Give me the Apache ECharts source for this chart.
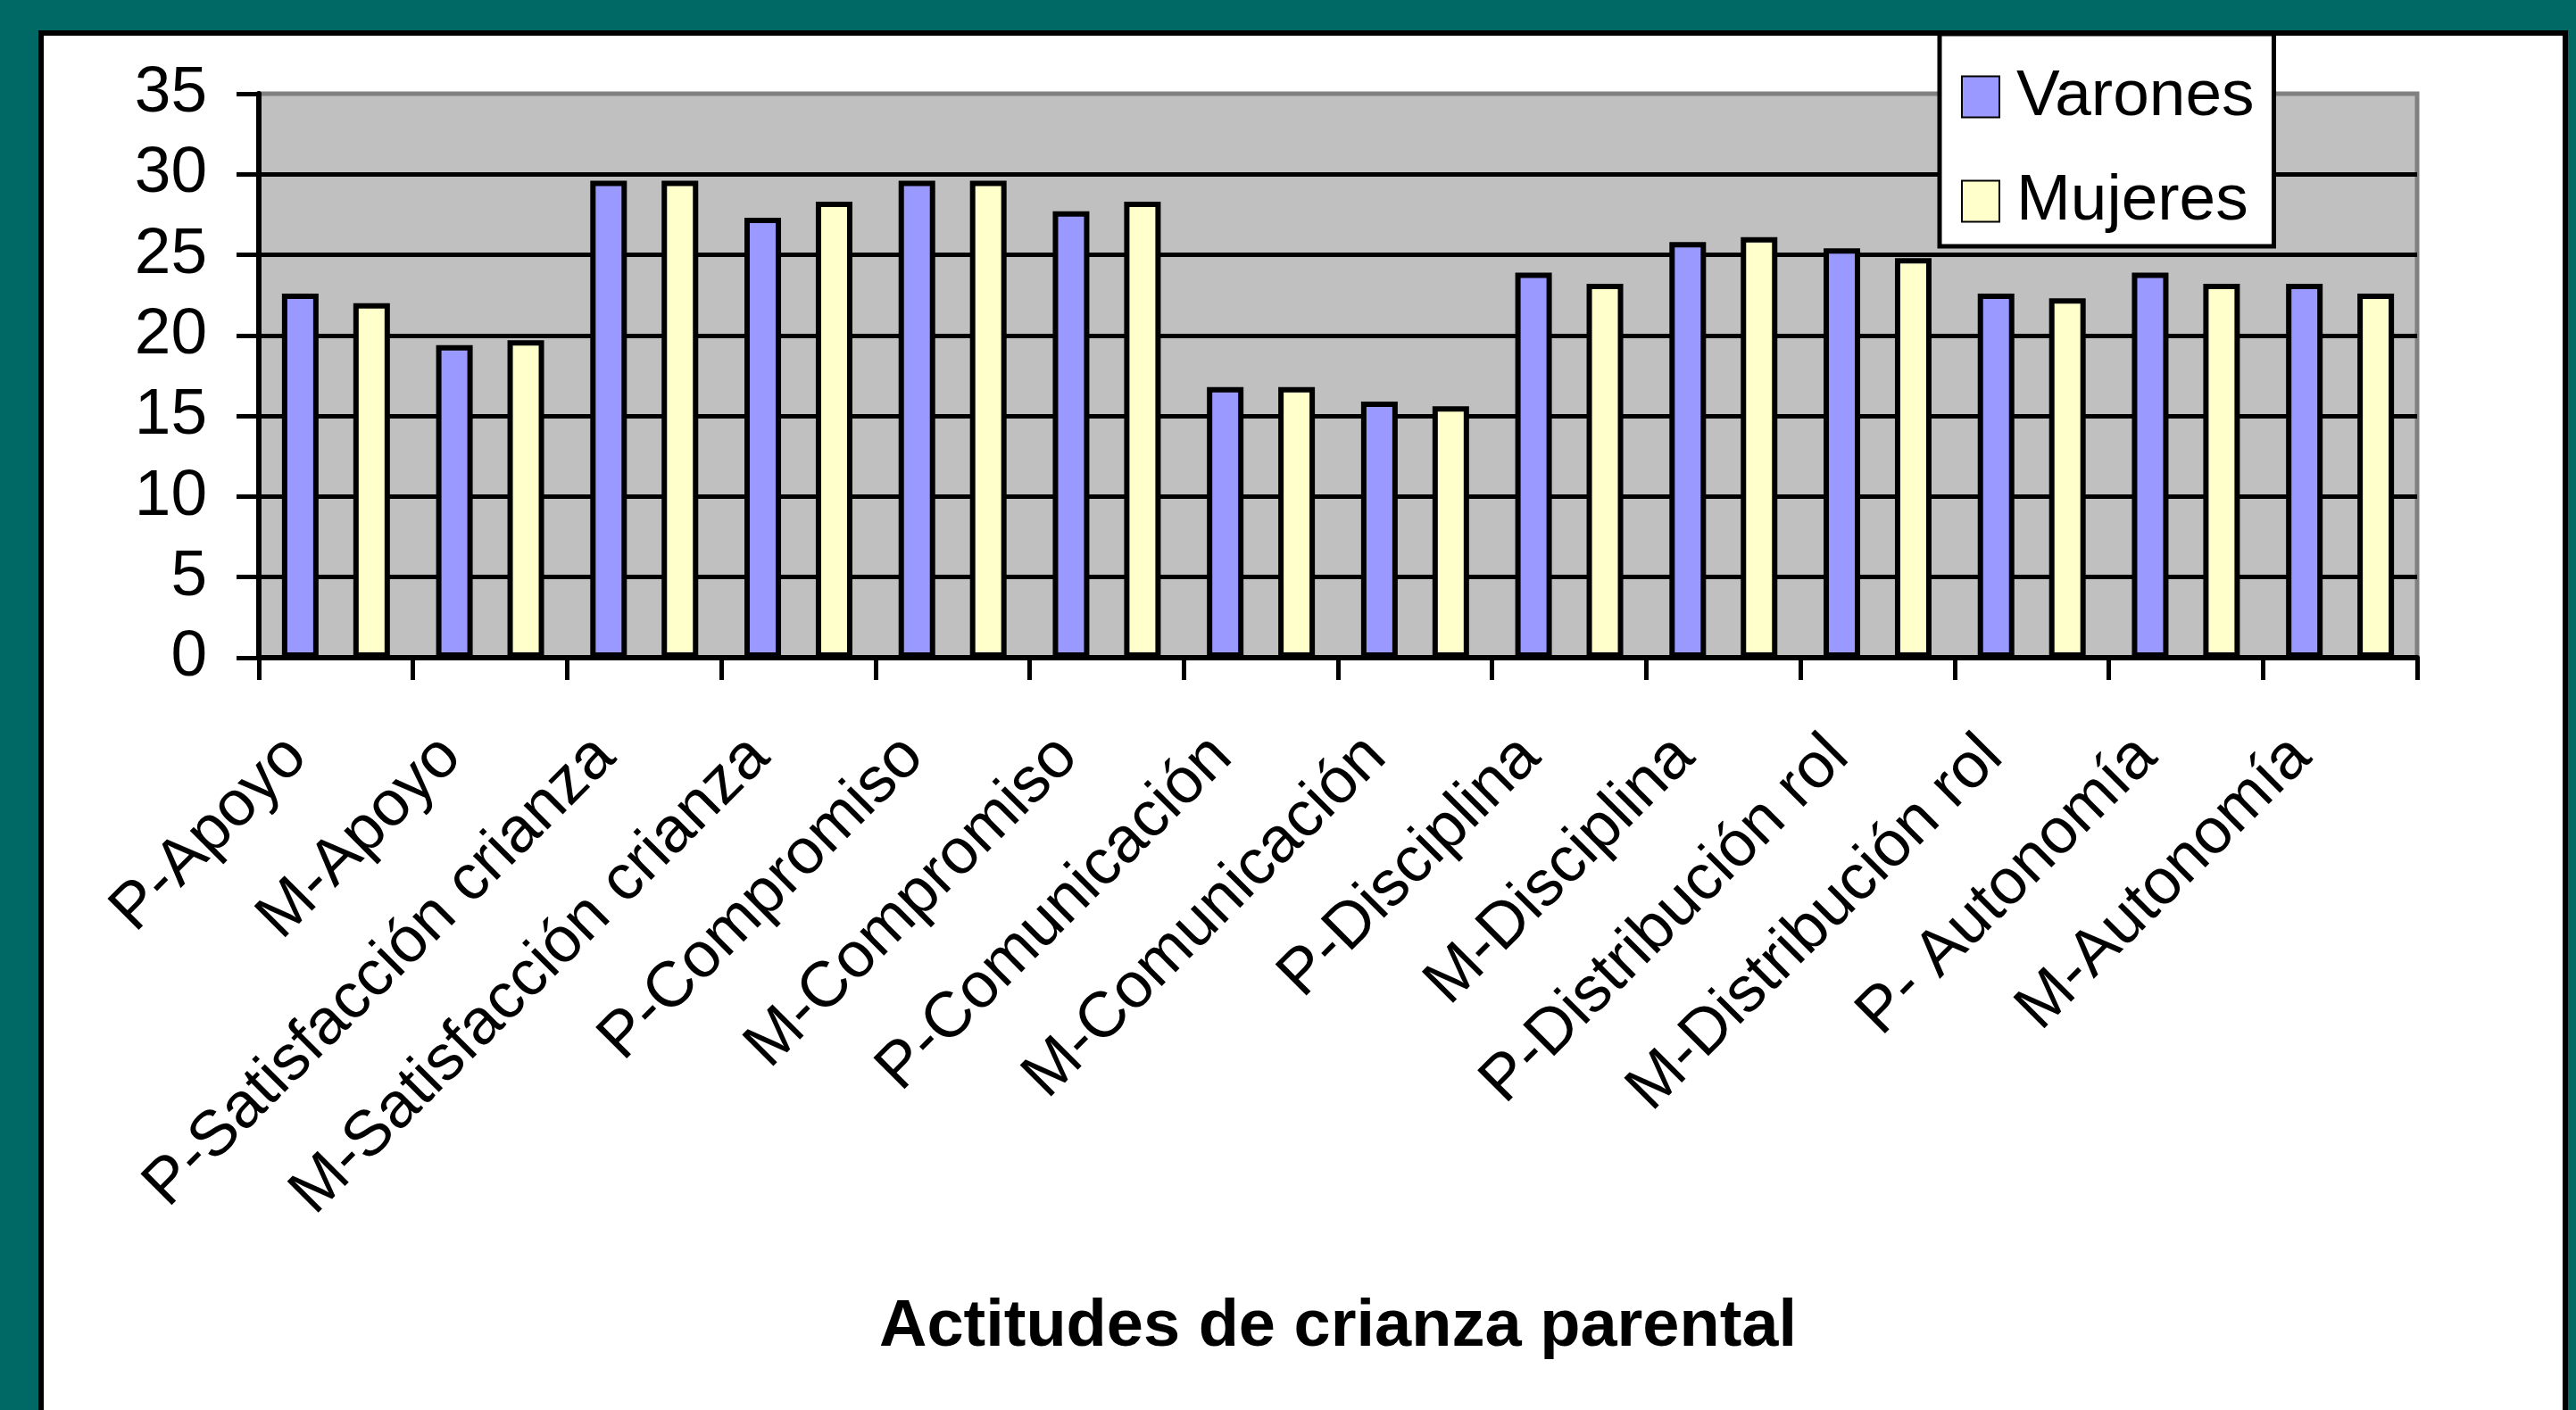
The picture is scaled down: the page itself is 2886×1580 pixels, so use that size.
<!doctype html>
<html>
<head>
    <meta charset="UTF-8">
    <title>Actitudes de crianza parental</title>
    <script src="https://cdn.jsdelivr.net/npm/echarts@6/dist/echarts.min.js"></script>
    <style>
        html, body { margin: 0; padding: 0; background: #006966; }
        #main { width: 2886px; height: 1580px; }
    </style>
</head>
<body>
<div id="main"></div>
<script type="text/javascript">
    // categorias del eje X
    var categorias = ['P-Apoyo', 'M-Apoyo', 'P-Satisfacción crianza', 'M-Satisfacción crianza',
        'P-Compromiso', 'M-Compromiso', 'P-Comunicación', 'M-Comunicación',
        'P-Disciplina', 'M-Disciplina', 'P-Distribución rol', 'M-Distribución rol',
        'P- Autonomía', 'M-Autonomía'];
    var varones = [22.6, 19.4, 29.6, 27.3, 29.6, 27.7, 16.8, 15.9, 23.9, 25.8, 25.4, 22.6, 23.9, 23.2];
    var mujeres = [22.0, 19.7, 29.6, 28.3, 29.6, 28.3, 16.8, 15.6, 23.2, 26.1, 24.8, 22.3, 23.2, 22.6];
    var series_nombres = ['Varones', 'Mujeres'];

    var fuente = 'Liberation Sans, Arial, sans-serif';
    var myChart = echarts.init(document.getElementById('main'));

    option = {
        backgroundColor: '#006966',
        animation: false,
        textStyle: { fontFamily: fuente },
        graphic: [{
            type: 'rect',
            z: -10,
            shape: { x: 46, y: 37, width: 2828, height: 1600 },
            style: { fill: '#ffffff', stroke: '#000000', lineWidth: 6 }
        }],
        legend: {
            data: series_nombres,
            orient: 'vertical',
            left: 2173,
            top: 38,
            padding: [34, 22, 14, 24],
            itemGap: 44,
            itemWidth: 42,
            itemHeight: 46,
            backgroundColor: '#ffffff',
            borderColor: '#000000',
            borderWidth: 5,
            icon: 'rect',
            z: 10,
            textStyle: {
                fontSize: 73,
                color: '#000',
                fontFamily: fuente,
                padding: [0, 0, 0, 14]
            }
        },
        grid: {
            left: 290,
            right: 178,
            top: 105,
            bottom: 843,
            show: true,
            backgroundColor: '#c0c0c0',
            borderColor: '#808080',
            borderWidth: 5
        },
        xAxis: {
            type: 'category',
            data: categorias,
            name: 'Actitudes de crianza parental',
            nameLocation: 'middle',
            nameGap: 714,
            nameTextStyle: {
                fontSize: 74,
                fontWeight: 'bold',
                color: '#000',
                fontFamily: fuente
            },
            axisLine: { lineStyle: { color: '#000', width: 6 } },
            axisTick: { show: true, length: 25, lineStyle: { color: '#000', width: 5 } },
            axisLabel: {
                interval: 0,
                rotate: 45,
                margin: 56,
                fontSize: 72,
                color: '#000',
                fontFamily: fuente,
                padding: [0, 62, 0, 0]
            }
        },
        yAxis: {
            type: 'value',
            min: 0,
            max: 35,
            interval: 5,
            axisLine: { show: true, lineStyle: { color: '#000', width: 6 } },
            axisTick: { show: true, length: 25, lineStyle: { color: '#000', width: 5 } },
            axisLabel: {
                margin: 58,
                fontSize: 73,
                color: '#000',
                fontFamily: fuente
            },
            splitLine: {
                show: true,
                showMaxLine: false,
                lineStyle: { color: '#000', width: 5 }
            }
        },
        series: [{
            name: series_nombres[0],
            type: 'bar',
            data: varones,
            barWidth: 41,
            barGap: '95%',
            itemStyle: { color: '#9999ff', borderColor: '#000', borderWidth: 6 }
        }, {
            name: series_nombres[1],
            type: 'bar',
            data: mujeres,
            barWidth: 41,
            barGap: '95%',
            itemStyle: { color: '#ffffcc', borderColor: '#000', borderWidth: 6 }
        }]
    };
    myChart.setOption(option);
</script>
</body>
</html>
